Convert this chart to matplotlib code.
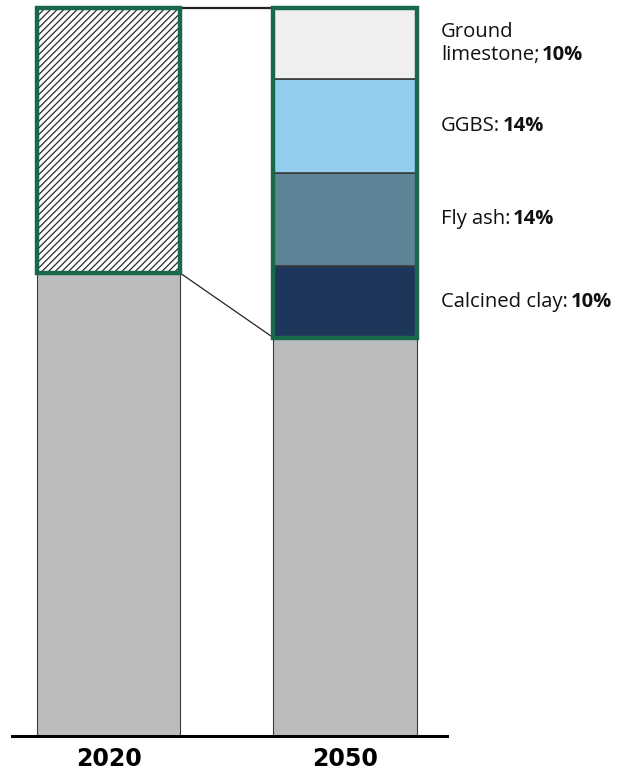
import matplotlib
matplotlib.use("Agg")
import matplotlib.pyplot as plt
from matplotlib.patches import Rectangle

plt.rcParams['font.family'] = ['Open Sans', 'DejaVu Sans']

# ---------------------------------------------------------------- data
years = ['2020', '2050']
clinker = [63.6, 54.7]                 # grey base of each bar
scm_2020 = 100 - clinker[0]            # hatched part of 2020

scm_names = ['Calcined clay', 'Fly ash', 'GGBS', 'Ground\nlimestone']
scm_values = [9.8, 12.9, 12.8, 9.9]    # drawn heights, bottom -> top
scm_labels = ['10%', '14%', '14%', '10%']
scm_seps = [':', ':', ':', ';']
scm_colors = ['#1f365c', '#5e8597', '#92cdee', '#f0f0f0']

grey = '#bbbcbe'
green = '#17694a'
edge = '#3a3a3a'

# ---------------------------------------------------------------- figure
fig = plt.figure(figsize=(6.38, 7.72), dpi=100)
ax = fig.add_axes([12 / 638, 36 / 772, 435 / 638, 728 / 772])

x = [0, 1]
w = 0.605

# grey clinker bars
ax.bar(x, clinker, width=w, color=grey, edgecolor=edge, linewidth=0.8)

# hatched 2020 part
plt.rcParams['hatch.linewidth'] = 0.9
ax.bar(x[0], scm_2020, bottom=clinker[0], width=w, color='white',
       edgecolor='#2a2a2a', hatch='/////', linewidth=0)

# 2050 stacked SCMs
bottom = clinker[1]
mids = []
for v, c in zip(scm_values, scm_colors):
    ax.bar(x[1], v, bottom=bottom, width=w, color=c, edgecolor=edge,
           linewidth=1.2)
    mids.append(bottom + v / 2)
    bottom += v

# green frames
ax.add_patch(Rectangle((x[0] - w / 2, clinker[0]), w, scm_2020, fill=False,
                       edgecolor=green, linewidth=3.2, zorder=5, clip_on=False))
ax.add_patch(Rectangle((x[1] - w / 2, clinker[1]), w, 100 - clinker[1],
                       fill=False, edgecolor=green, linewidth=3.2, zorder=5,
                       clip_on=False))

# connector lines
ax.plot([x[0] + w / 2, x[1] - w / 2], [100, 100], color='#222222', lw=1.6,
        zorder=4, clip_on=False)
ax.plot([x[0] + w / 2, x[1] - w / 2], [clinker[0], clinker[1]],
        color='#222222', lw=0.9, zorder=4, clip_on=False)

# labels on the right
for name, sep, lab, m in zip(scm_names, scm_seps, scm_labels, mids):
    t = ax.text(1.405, m, name + sep, fontsize=14.6, color='#111111',
                ha='left', va='center', clip_on=False, linespacing=1.2)
    ax.annotate(lab, xy=(1, 0), xycoords=t, xytext=(2, 0),
                textcoords='offset points', fontsize=14.5,
                fontweight='bold', color='#111111', ha='left', va='bottom')

# axes cosmetics
ax.set_xlim(-0.408, 1.431)
ax.set_ylim(0, 100)
for s in ['top', 'right', 'left']:
    ax.spines[s].set_visible(False)
ax.spines['bottom'].set_linewidth(2.2)
ax.spines['bottom'].set_zorder(6)
ax.set_yticks([])
ax.set_xticks(x)
ax.set_xticklabels(years, fontsize=17, fontweight='bold',
                   fontfamily='DejaVu Sans')
ax.tick_params(axis='x', length=0, pad=8)

fig.savefig('out.png', dpi=100)
